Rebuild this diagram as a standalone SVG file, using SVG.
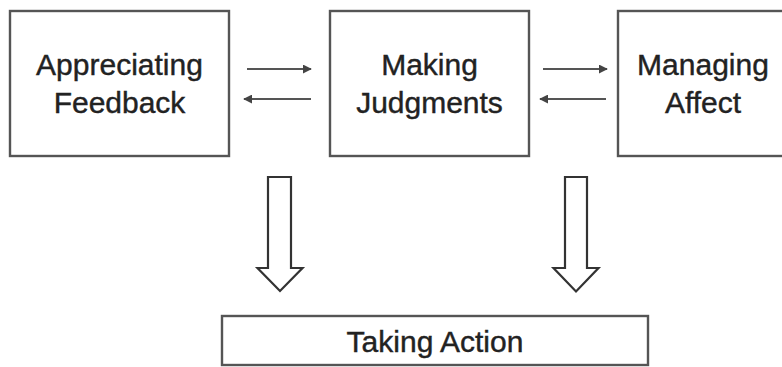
<svg xmlns="http://www.w3.org/2000/svg" width="782" height="367" viewBox="0 0 782 367">
<style>
.box{fill:#fff;stroke:#555;stroke-width:2.4}
.lbl{font-family:"Liberation Sans",Arial,sans-serif;font-size:30px;fill:#222;stroke:#222;stroke-width:0.4;text-anchor:middle}
.thin{stroke:#555;stroke-width:1.8;fill:none}
.big{fill:#fff;stroke:#333;stroke-width:2.2;stroke-linejoin:miter}
</style>
<defs>
<marker id="ah" viewBox="0 0 10 10" refX="9" refY="5" markerWidth="5" markerHeight="5" orient="auto-start-reverse" markerUnits="strokeWidth">
<path d="M0,0 L10,5 L0,10 z" fill="#444"/>
</marker>
</defs>
<rect width="782" height="367" fill="#fff"/>
<g id="appreciating-feedback">
<rect class="box" x="10" y="11" width="219" height="145"/>
<text class="lbl" x="119.5" y="75">Appreciating</text>
<text class="lbl" x="119.5" y="113">Feedback</text>
</g>
<g id="making-judgments">
<rect class="box" x="330" y="11" width="199" height="145"/>
<text class="lbl" x="429.5" y="75">Making</text>
<text class="lbl" x="429.5" y="113">Judgments</text>
</g>
<g id="managing-affect">
<rect class="box" x="618" y="11" width="172" height="145"/>
<text class="lbl" x="703" y="75">Managing</text>
<text class="lbl" x="703" y="113">Affect</text>
</g>
<g id="taking-action">
<rect class="box" x="222" y="316" width="426" height="49"/>
<text class="lbl" x="435" y="352">Taking Action</text>
</g>
<g id="connectors">
<line class="thin" x1="247" y1="69" x2="311" y2="69" marker-end="url(#ah)"/>
<line class="thin" x1="311" y1="99" x2="244" y2="99" marker-end="url(#ah)"/>
<line class="thin" x1="543" y1="69" x2="607" y2="69" marker-end="url(#ah)"/>
<line class="thin" x1="606" y1="99" x2="540" y2="99" marker-end="url(#ah)"/>
<path class="big" d="M268,177 H291 V268 H302.5 L280,291 L257.5,268 H268 Z"/>
<path class="big" d="M565,177 H587 V268 H598.5 L576,291.5 L553.5,268 H565 Z"/>
</g>
</svg>
